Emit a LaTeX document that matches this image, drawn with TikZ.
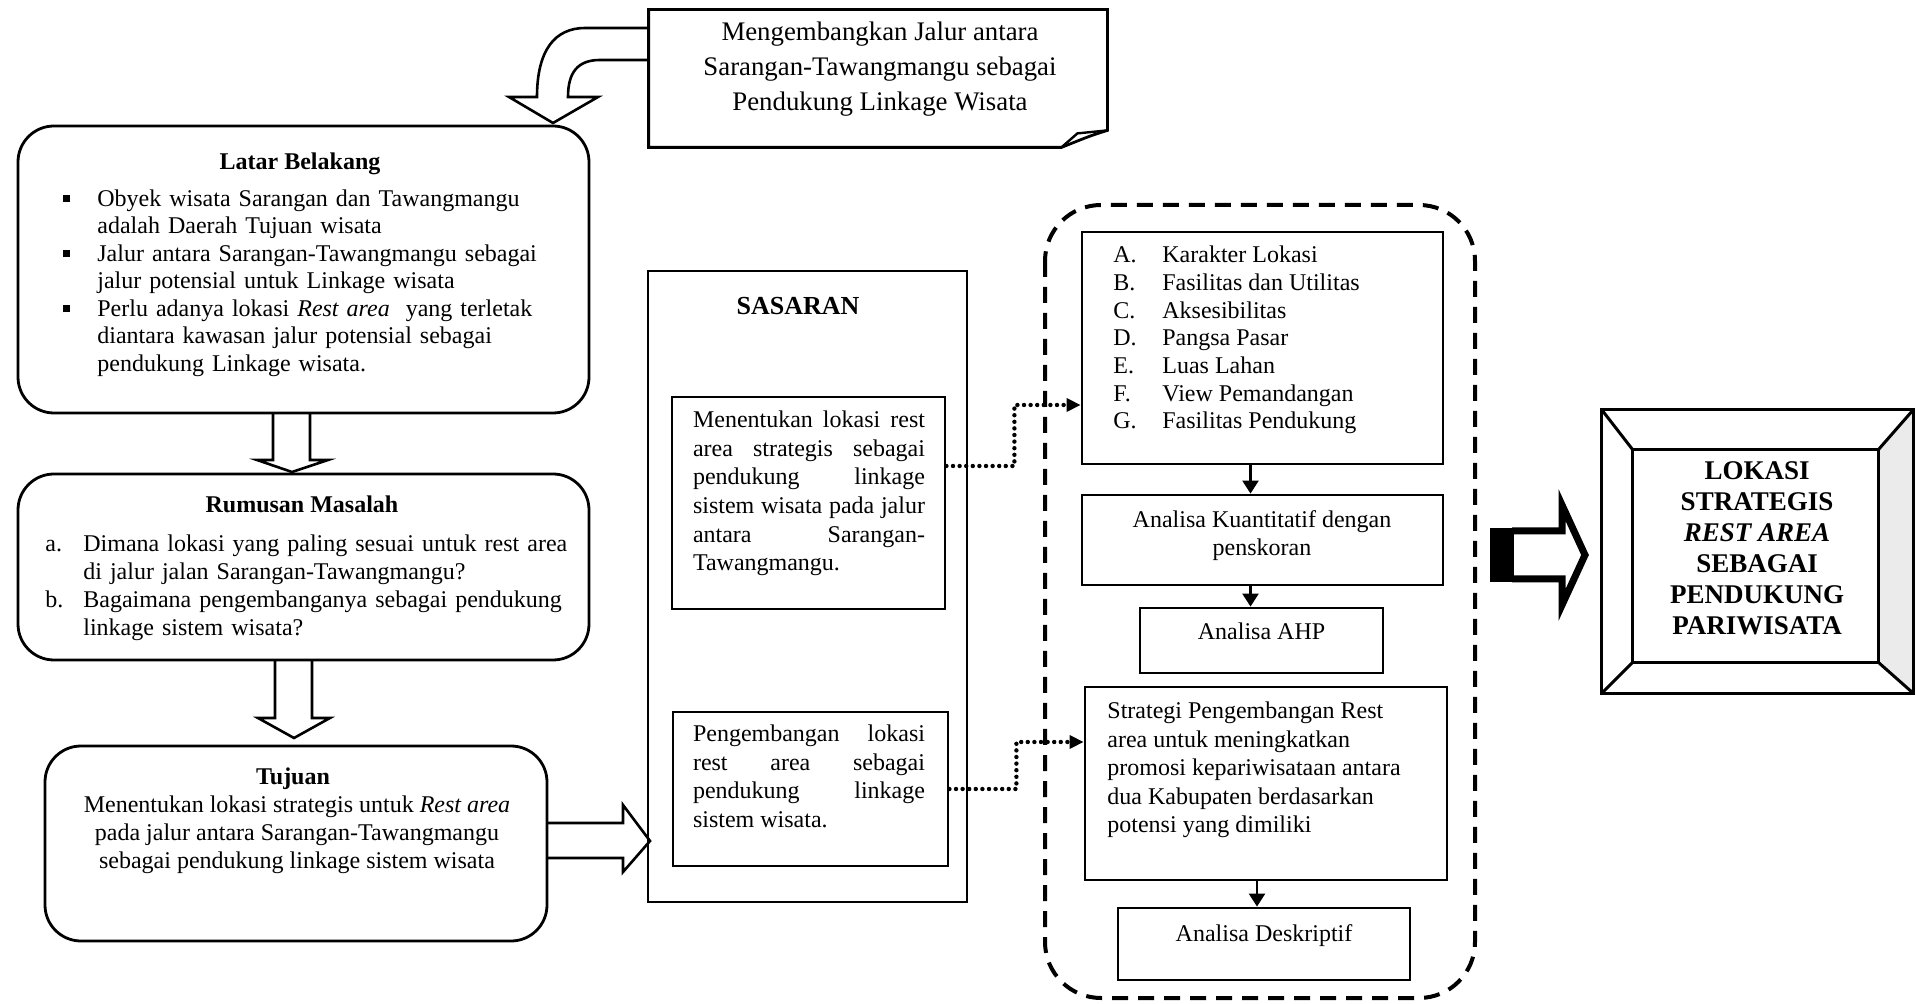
\documentclass[tikz,border=0pt]{standalone}
\usepackage{fontspec}
\setmainfont{Liberation Serif}
\usepackage{enumitem}
\usetikzlibrary{positioning}
\usetikzlibrary{calc}
\usetikzlibrary{arrows.meta}
\tikzset{box/.style={draw,line width=1.4pt,inner sep=0pt}}
\tikzset{rbox/.style={box,rounded corners=18pt}}
\tikzset{blk/.style={draw,line width=1.3pt,line join=miter}}
\tikzset{dotarrow/.style={-{Triangle[length=7pt,width=6.5pt]},line width=2.2pt,dash pattern=on 0pt off 3.3pt,line cap=round}}
\tikzset{arr/.style={-{Triangle[length=6.5pt,width=8pt]},line width=1.2pt}}
\tikzset{dashbox/.style={line width=2pt,dash pattern=on 8pt off 5pt,rounded corners=28pt}}
\tikzset{txt/.style={inner sep=0pt,font=\fontsize{12}{14}\selectfont}}
\tikzset{ttl/.style={inner sep=0pt,font=\bfseries\fontsize{12}{14}\selectfont}}

\begin{document}
\begin{tikzpicture}[x=0.5pt,y=-0.5pt]
  \useasboundingbox (0,0) rectangle (1916,1004);

  % note at the top
  \node[minimum width=229pt, minimum height=68.5pt] (note) at (878,78.5) {};
  \draw[line width=1.4pt] (note.north west) -- (note.north east) -- ($(note.south east)+(0,8.5pt)$)
    .. controls ($(note.south east)+(-8pt,6pt)$) .. ($(note.south east)+(-23pt,0)$) -- (note.south west) -- cycle;
  \draw[line width=1.2pt] ($(note.south east)+(-23pt,0)$) -- ($(note.south east)+(-15pt,7pt)$) -- ($(note.south east)+(0,8.5pt)$);
  \node[txt, align=center, font=\fontsize{13.4}{17.5}\selectfont] (noteText) at (880,69)
    {Mengembangkan Jalur antara\\Sarangan-Tawangmangu sebagai\\Pendukung Linkage Wisata};

  % curved arrow from the note
  \draw[blk] (649,28) -- (585,28) .. controls (555,28) and (537,50) .. (537,97) -- (509,97) -- (553,123)
    -- (598,97) -- (568,97) .. controls (568,72) and (578,60) .. (600,60) -- (649,60);

  % left column
  \node[rbox, minimum width=285.5pt, minimum height=143.5pt] (latar) at (303.5,269.5) {};
  \node[ttl, anchor=base] (latarTitle) at (300,169.5) {Latar Belakang};
  \node[txt, anchor=north west, text width=262pt, font=\fontsize{12}{13.75}\selectfont] (latarList) at (56,178.6) {%
    \begin{itemize}[leftmargin=20.5pt,labelwidth=3.5pt,labelsep=13.5pt,itemsep=0pt,topsep=0pt,parsep=0pt,partopsep=0pt,label=\raisebox{2pt}{\rule{3.5pt}{3.5pt}}]
      \item Obyek wisata Sarangan dan Tawangmangu\newline adalah Daerah Tujuan wisata
      \item Jalur antara Sarangan-Tawangmangu sebagai\newline jalur potensial untuk Linkage wisata
      \item Perlu adanya lokasi \textit{Rest area}\ \ yang terletak\newline diantara kawasan jalur potensial sebagai\newline pendukung Linkage wisata.
    \end{itemize}};

  \node[rbox, minimum width=285.5pt, minimum height=93pt] (rumusan) at (303.5,567) {};
  \node[ttl, anchor=base] (rumusanTitle) at (302,512.5) {Rumusan Masalah};
  \node[txt, anchor=north west, text width=280pt] (rumusanList) at (45,523.6) {%
    \begin{enumerate}[label=\alph*.,leftmargin=19pt,labelwidth=12pt,labelsep=7pt,align=left,itemsep=0pt,topsep=0pt,parsep=0pt,partopsep=0pt]
      \item Dimana lokasi yang paling sesuai untuk rest area\newline di jalur jalan Sarangan-Tawangmangu?
      \item Bagaimana pengembanganya sebagai pendukung\newline linkage sistem wisata?
    \end{enumerate}};

  \node[rbox, minimum width=251pt, minimum height=97.5pt] (tujuan) at (296,843.5) {};
  \node[ttl, anchor=base] (tujuanTitle) at (293,784.5) {Tujuan};
  \node[txt, anchor=north, align=center] (tujuanText) at (297,795.6)
    {Menentukan lokasi strategis untuk \textit{Rest area}\\pada jalur antara Sarangan-Tawangmangu\\sebagai pendukung linkage sistem wisata};

  % block arrows of the left column
  \draw[blk] (273,413) -- (273,460) -- (257,460) -- (292,472) -- (328,460) -- (310,460) -- (310,413);
  \draw[blk] (275,660) -- (275,718) -- (258,718) -- (294,738) -- (330,718) -- (312,718) -- (312,660);
  \draw[blk] (547,823) -- (623,823) -- (623,805) -- (650,841) -- (623,872) -- (623,858) -- (547,858);

  % sasaran
  \node[box, minimum width=159.5pt, minimum height=315.5pt] (sasaran) at (807.5,586.5) {};
  \node[ttl, anchor=base, font=\bfseries\fontsize{13}{14}\selectfont] (sasaranTitle) at (798,314.5) {SASARAN};
  \node[box, minimum width=136.5pt, minimum height=106pt] (goal1) at (808.5,503) {};
  \node[txt, anchor=north, text width=116pt, align=justify, font=\fontsize{12}{14.3}\selectfont] (goal1Text) at (809,410.6)
    {Menentukan lokasi rest\linebreak area strategis sebagai\linebreak pendukung linkage\linebreak sistem wisata pada jalur\linebreak antara Sarangan-\linebreak Tawangmangu.};
  \node[box, minimum width=137.5pt, minimum height=77pt] (goal2) at (810.5,789) {};
  \node[txt, anchor=north, text width=116pt, align=justify, font=\fontsize{12}{14.3}\selectfont] (goal2Text) at (809,724.6)
    {Pengembangan lokasi\linebreak rest area sebagai\linebreak pendukung linkage\linebreak sistem wisata.};

  % analysis group
  \draw[dashbox] (1045,205) rectangle (1475,998);
  \node[box, minimum width=180.5pt, minimum height=116pt] (AG) at (1262.5,348) {};
  \node[txt, anchor=north west, align=left, font=\fontsize{12}{13.85}\selectfont] (AGText) at (1113,245.6)
    {\makebox[24.5pt][l]{A.}Karakter Lokasi\\\makebox[24.5pt][l]{B.}Fasilitas dan Utilitas\\\makebox[24.5pt][l]{C.}Aksesibilitas\\\makebox[24.5pt][l]{D.}Pangsa Pasar\\\makebox[24.5pt][l]{E.}Luas Lahan\\\makebox[24.5pt][l]{F.}View Pemandangan\\\makebox[24.5pt][l]{G.}Fasilitas Pendukung};
  \node[box, minimum width=180.5pt, minimum height=45pt] (kuant) at (1262.5,540) {};
  \node[txt, anchor=north, align=center] (kuantText) at (1262,510.6) {Analisa Kuantitatif dengan\\penskoran};
  \node[box, minimum width=121.5pt, minimum height=32.5pt] (ahp) at (1261.5,640.5) {};
  \node[txt, anchor=base] (ahpText) at (1261.5,640) {Analisa AHP};
  \node[box, minimum width=181pt, minimum height=96.5pt] (strategi) at (1266,783.5) {};
  \node[txt, anchor=north west, align=left, font=\fontsize{12}{14.25}\selectfont] (strategiText) at (1107,701.6)
    {Strategi Pengembangan Rest\\area untuk meningkatkan\\promosi kepariwisataan antara\\dua Kabupaten berdasarkan\\potensi yang dimiliki};
  \node[box, minimum width=146pt, minimum height=36pt] (deskriptif) at (1264,944) {};
  \node[txt, anchor=base] (deskriptifText) at (1264,941) {Analisa Deskriptif};

  \draw[arr] ([xshift=-6pt]AG.south) -- ([xshift=-6pt]AG.south |- kuant.north);
  \draw[arr] ([xshift=-6pt]kuant.south) -- ([xshift=-6pt]kuant.south |- ahp.north);
  \draw[arr] ([xshift=-4.5pt]strategi.south) -- ([xshift=-4.5pt]strategi.south |- deskriptif.north);

  \draw[dotarrow] ([yshift=18.5pt]goal1.east) -- ++(34pt,0) |- ([yshift=-28.5pt]AG.west);
  \draw[dotarrow] (goal2.east) -- ++(33.5pt,0) |- ([yshift=20.75pt]strategi.west);

  % big arrow and result
  \fill (1490,528) rectangle (1514,582);
  \draw[line width=3.5pt, line join=miter] (1512,531) -- (1562,531) -- (1562,505) -- (1585,555)
    -- (1562,605) -- (1562,579) -- (1512,579);

  \node[minimum width=155.5pt, minimum height=141.5pt, inner sep=0pt] (lokasiFrame) at (1757.5,551.5) {};
  \node[minimum width=122.5pt, minimum height=106pt, inner sep=0pt] (lokasi) at (1755.5,556) {};
  \fill[black!8] (lokasiFrame.north east) -- (lokasiFrame.south east) -- (lokasi.south east) -- (lokasi.north east) -- cycle;
  \draw[line width=1.5pt] (lokasiFrame.north west) rectangle (lokasiFrame.south east);
  \draw[line width=1.5pt] (lokasi.north west) rectangle (lokasi.south east);
  \draw[line width=1.5pt] (lokasiFrame.north west) -- (lokasi.north west);
  \draw[line width=1.5pt] (lokasiFrame.north east) -- (lokasi.north east);
  \draw[line width=1.5pt] (lokasiFrame.south west) -- (lokasi.south west);
  \draw[line width=1.5pt] (lokasiFrame.south east) -- (lokasi.south east);
  \node[ttl, anchor=north, align=center, font=\bfseries\fontsize{13.5}{15.5}\selectfont] (lokasiText) at (1757,461)
    {LOKASI\\STRATEGIS\\\textit{REST AREA}\\SEBAGAI\\PENDUKUNG\\PARIWISATA};
\end{tikzpicture}
\end{document}
